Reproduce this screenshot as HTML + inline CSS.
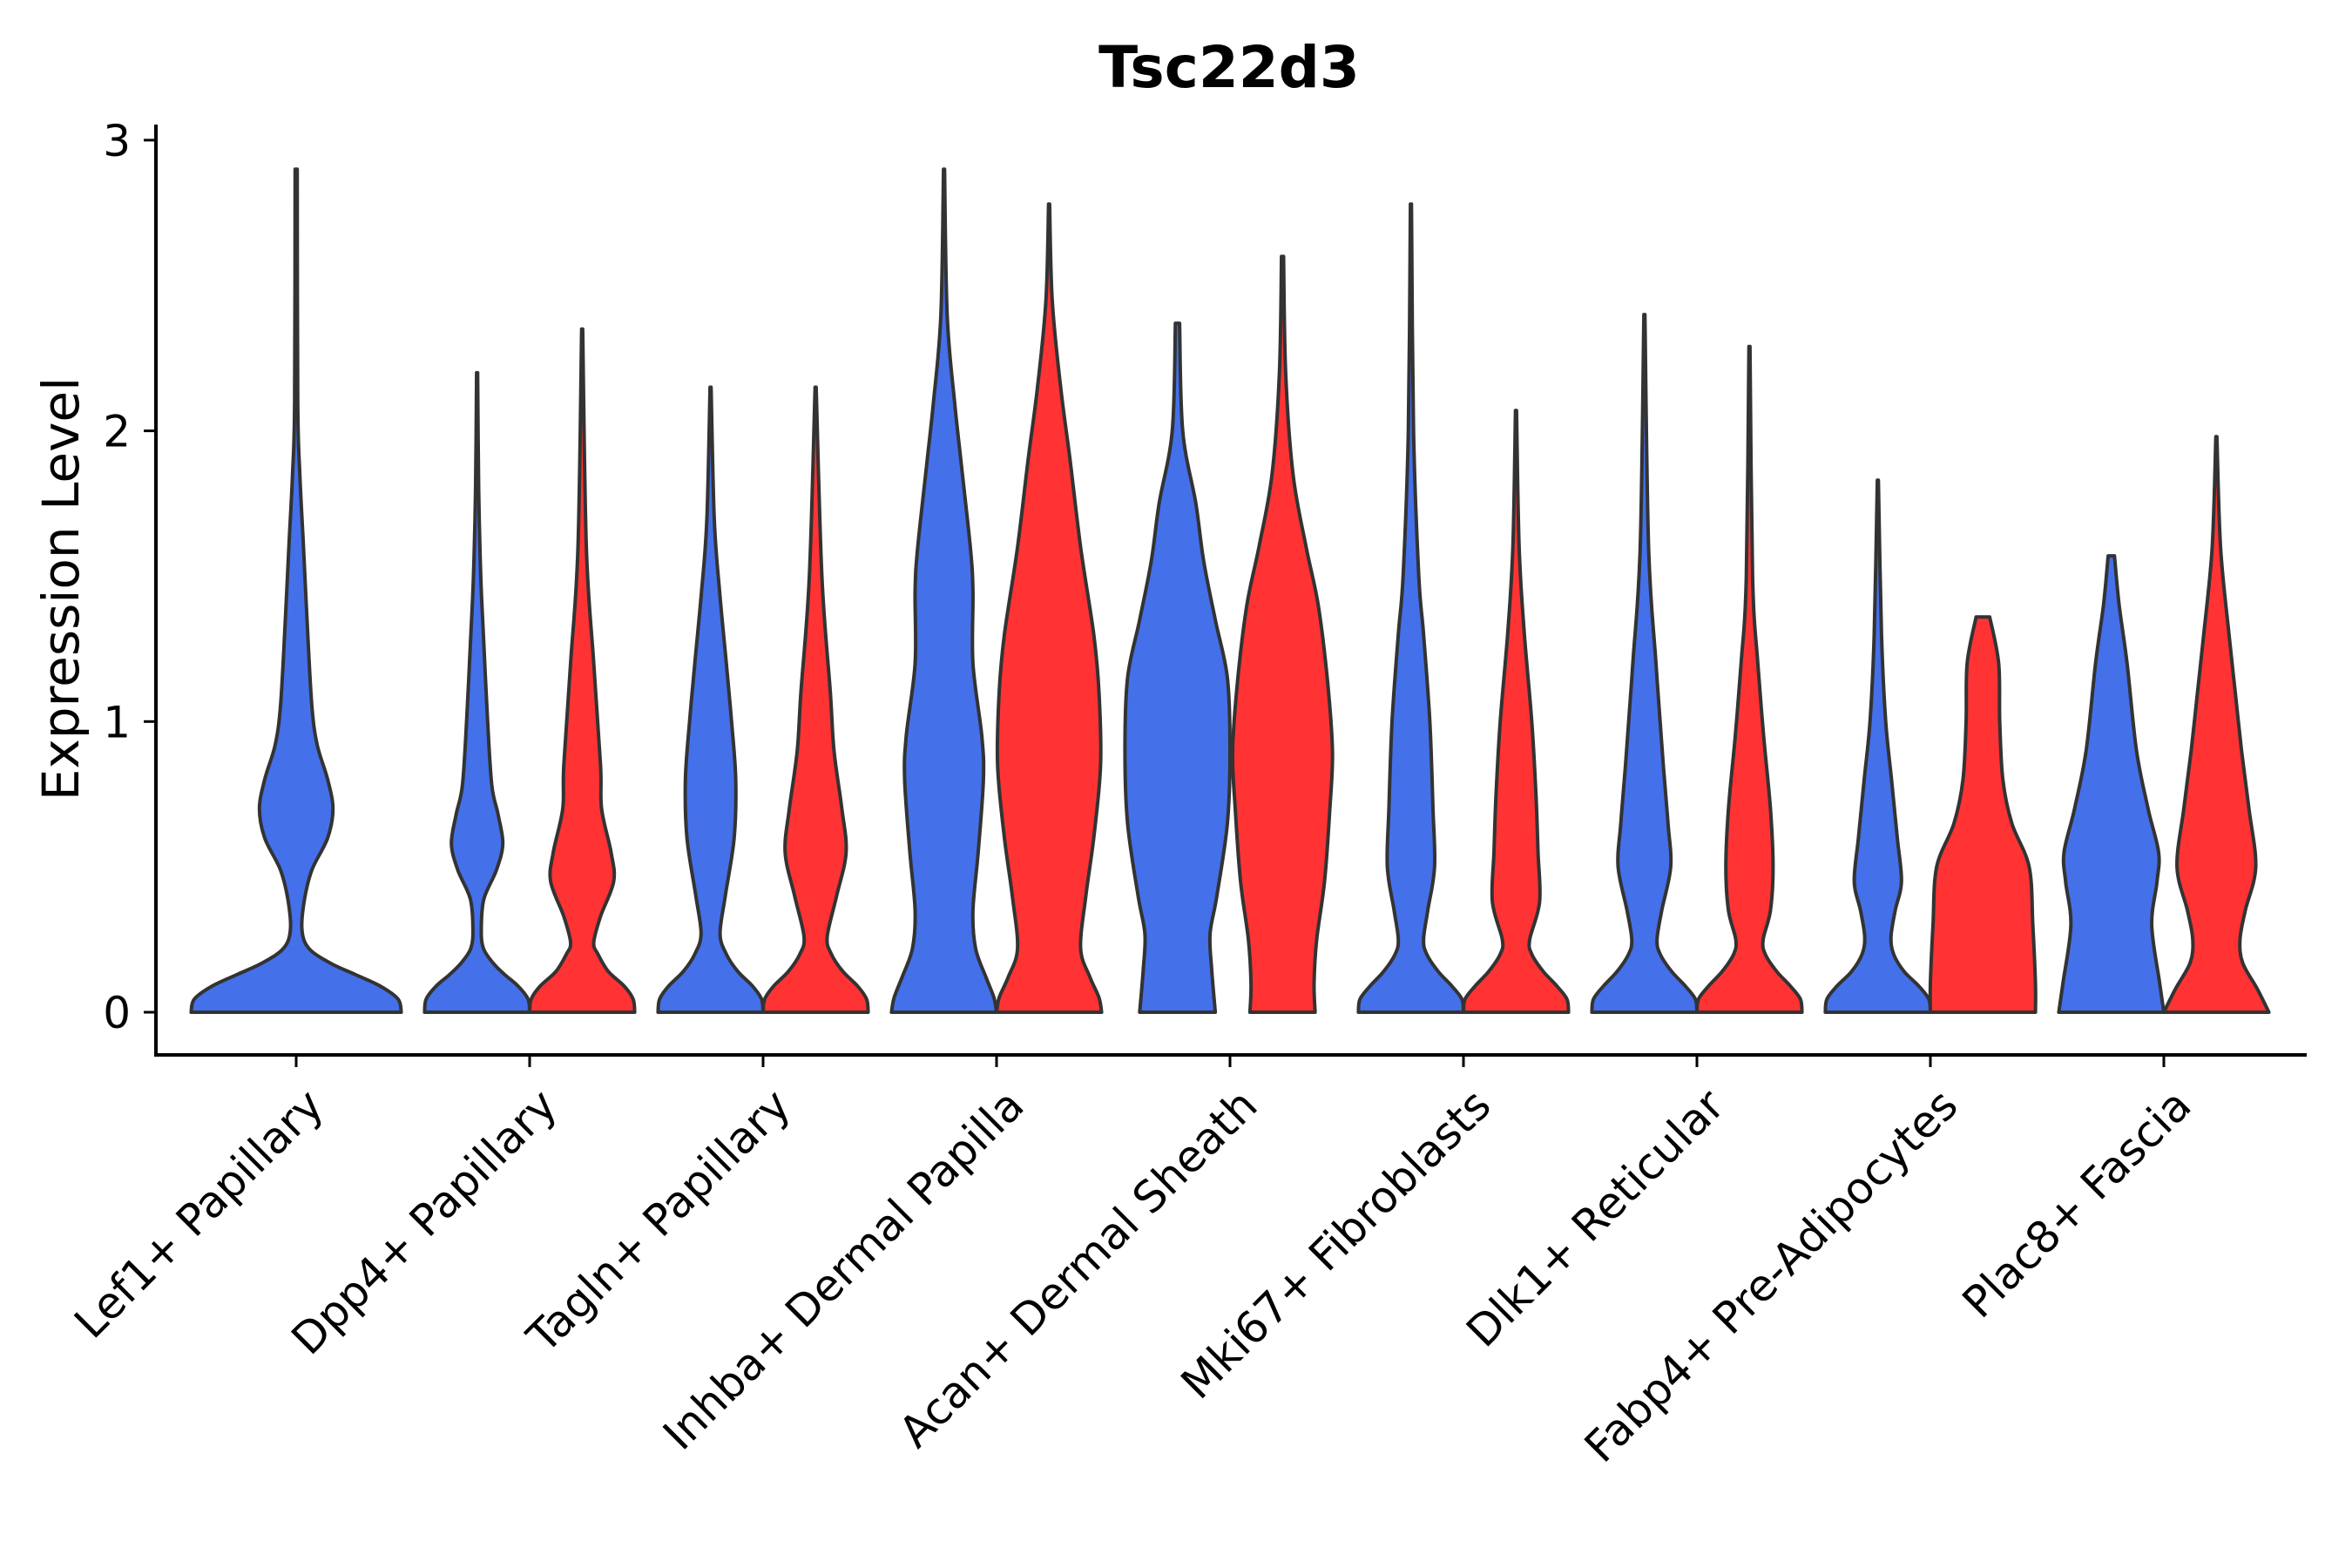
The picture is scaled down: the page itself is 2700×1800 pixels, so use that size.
<!DOCTYPE html>
<html><head><meta charset="utf-8"><style>
html,body{margin:0;padding:0;background:#fff;}
svg{display:block;}
text{font-family:"DejaVu Sans","Liberation Sans",sans-serif;}
</style></head>
<body>
<svg id="chart" width="2700" height="1800" viewBox="0 0 2700 1800" xmlns="http://www.w3.org/2000/svg">
<rect width="2700" height="1800" fill="#fff"/>
<text x="1411" y="100" text-anchor="middle" font-size="66" font-weight="bold">Tsc22d3</text>
<text transform="translate(90,676) rotate(-90)" text-anchor="middle" font-size="58">Expression Level</text>
<g id="violins"></g>
<g id="axes"></g>
</svg>
<script>
const categories = ["Lef1+ Papillary","Dpp4+ Papillary","Tagln+ Papillary","Inhba+ Dermal Papilla","Acan+ Dermal Sheath","Mki67+ Fibroblasts","Dlk1+ Reticular","Fabp4+ Pre-Adipocytes","Plac8+ Fascia"];
const yTicks = [0,1,2,3];
// density profiles: [expression, relative half-width]
const blueProfiles = [
 [[0,1],[0.045,0.97],[0.09,0.8],[0.13,0.56],[0.17,0.32],[0.22,0.12],[0.285,0.055],[0.39,0.08],[0.49,0.15],[0.6,0.3],[0.7,0.35],[0.8,0.3],[0.92,0.2],[1.05,0.15],[1.3,0.11],[1.6,0.07],[1.85,0.035],[2.1,0.015],[2.9,0.01]],
 [[0,1],[0.045,0.97],[0.09,0.78],[0.13,0.52],[0.17,0.3],[0.22,0.12],[0.285,0.08],[0.39,0.13],[0.49,0.37],[0.58,0.49],[0.68,0.4],[0.78,0.28],[1.0,0.2],[1.3,0.12],[1.5,0.07],[1.8,0.03],[2.2,0.01]],
 [[0,1],[0.045,0.97],[0.09,0.8],[0.14,0.52],[0.2,0.3],[0.27,0.18],[0.4,0.28],[0.6,0.45],[0.8,0.48],[1.0,0.4],[1.2,0.3],[1.45,0.17],[1.7,0.07],[2.15,0.01]],
 [[0,1],[0.05,0.95],[0.12,0.8],[0.22,0.6],[0.35,0.55],[0.55,0.65],[0.8,0.75],[0.95,0.72],[1.2,0.55],[1.45,0.55],[1.6,0.5],[1.9,0.32],[2.1,0.2],[2.4,0.06],[2.9,0.01]],
 [[0,0.72],[0.15,0.65],[0.27,0.62],[0.4,0.75],[0.65,0.95],[0.9,1.0],[1.15,0.95],[1.35,0.72],[1.55,0.5],[1.75,0.35],[2.0,0.1],[2.37,0.04]],
 [[0,1],[0.045,0.97],[0.09,0.78],[0.14,0.52],[0.2,0.3],[0.25,0.24],[0.35,0.32],[0.5,0.45],[0.7,0.42],[1.0,0.36],[1.3,0.24],[1.5,0.15],[2.0,0.05],[2.78,0.01]],
 [[0,1],[0.045,0.97],[0.09,0.78],[0.14,0.52],[0.2,0.3],[0.25,0.24],[0.35,0.33],[0.5,0.5],[0.65,0.45],[0.85,0.36],[1.2,0.22],[1.6,0.08],[2.4,0.01]],
 [[0,1],[0.045,0.97],[0.09,0.78],[0.14,0.5],[0.2,0.3],[0.26,0.25],[0.35,0.33],[0.45,0.45],[0.6,0.37],[0.8,0.26],[1.0,0.15],[1.3,0.07],[1.83,0.01]],
 [[0,1],[0.1,0.92],[0.3,0.77],[0.45,0.87],[0.55,0.9],[0.7,0.7],[0.9,0.48],[1.2,0.3],[1.4,0.15],[1.57,0.06]]
];
const redProfiles = [
 null,
 [[0,1],[0.045,0.97],[0.09,0.8],[0.14,0.5],[0.2,0.3],[0.24,0.22],[0.33,0.35],[0.45,0.6],[0.55,0.55],[0.7,0.37],[0.85,0.35],[1.2,0.22],[1.6,0.08],[2.35,0.01]],
 [[0,1],[0.045,0.97],[0.09,0.8],[0.14,0.52],[0.2,0.3],[0.26,0.22],[0.4,0.4],[0.55,0.58],[0.7,0.5],[0.9,0.35],[1.1,0.28],[1.5,0.12],[2.15,0.01]],
 [[0,1],[0.05,0.95],[0.12,0.78],[0.22,0.6],[0.4,0.7],[0.6,0.85],[0.85,0.98],[1.1,0.95],[1.3,0.85],[1.6,0.6],[1.9,0.4],[2.15,0.22],[2.45,0.06],[2.78,0.01]],
 [[0,0.62],[0.1,0.6],[0.25,0.65],[0.45,0.8],[0.7,0.9],[0.9,0.95],[1.15,0.85],[1.4,0.68],[1.6,0.45],[1.85,0.2],[2.2,0.06],[2.6,0.02]],
 [[0,1],[0.045,0.97],[0.09,0.78],[0.14,0.52],[0.2,0.3],[0.25,0.26],[0.38,0.45],[0.55,0.42],[0.75,0.38],[1.0,0.3],[1.3,0.16],[1.6,0.06],[2.07,0.01]],
 [[0,1],[0.045,0.97],[0.09,0.78],[0.14,0.52],[0.2,0.3],[0.25,0.26],[0.35,0.4],[0.5,0.45],[0.7,0.4],[0.95,0.27],[1.2,0.16],[1.5,0.06],[2.29,0.01]],
 [[0,1],[0.1,1.0],[0.3,0.95],[0.5,0.88],[0.65,0.55],[0.8,0.38],[1.0,0.32],[1.2,0.3],[1.36,0.13]],
 [[0,1],[0.08,0.78],[0.17,0.5],[0.25,0.45],[0.35,0.55],[0.5,0.75],[0.7,0.62],[0.9,0.48],[1.1,0.36],[1.3,0.24],[1.6,0.08],[1.98,0.01]]
];
const blueColor = "#4470EA", redColor = "#FF3333";
const X0 = 340, DX = 268, Y0 = 1162, YU = 333.7;
function xPos(i){ return X0 + i*DX; }
function yPos(v){ return Y0 - v*YU; }
const NS = "http://www.w3.org/2000/svg";

function smooth(pts){
  let d = "";
  for(let i=0;i<pts.length-1;i++){
    const p0=pts[Math.max(0,i-1)], p1=pts[i], p2=pts[i+1], p3=pts[Math.min(pts.length-1,i+2)];
    const c1=[p1[0]+(p2[0]-p0[0])/6, p1[1]+(p2[1]-p0[1])/6];
    const c2=[p2[0]-(p3[0]-p1[0])/6, p2[1]-(p3[1]-p1[1])/6];
    d += ` C${c1[0].toFixed(1)},${c1[1].toFixed(1)} ${c2[0].toFixed(1)},${c2[1].toFixed(1)} ${p2[0].toFixed(1)},${p2[1].toFixed(1)}`;
  }
  return d;
}
function violinPath(cx, hw, prof){
  const right = prof.map(p=>[cx + p[1]*hw, yPos(p[0])]);
  const left = prof.map(p=>[cx - p[1]*hw, yPos(p[0])]).reverse();
  let d = `M${left[left.length-1][0].toFixed(1)},${left[left.length-1][1].toFixed(1)} L${right[0][0].toFixed(1)},${right[0][1].toFixed(1)}`;
  d += smooth(right);
  d += ` L${left[0][0].toFixed(1)},${left[0][1].toFixed(1)}`;
  d += smooth(left);
  return d + " Z";
}
const vg = document.getElementById('violins');
function addViolin(cx, hw, prof, color, name){
  const p = document.createElementNS(NS,'path');
  p.setAttribute('d', violinPath(cx, hw, prof));
  p.setAttribute('fill', color);
  p.setAttribute('stroke', '#333333');
  p.setAttribute('stroke-width', '4');
  p.setAttribute('stroke-linejoin', 'round');
  
  
  vg.appendChild(p);
}
categories.forEach((c,i)=>{
  const cx = xPos(i);
  const slug = c.toLowerCase().replace(/[^a-z0-9]+/g,'-').replace(/-$/,'');
  if(!redProfiles[i]){
    addViolin(cx, 0.45*DX, blueProfiles[i], blueColor, 'violin-' + slug);
  } else {
    addViolin(cx - 0.225*DX, 0.225*DX, blueProfiles[i], blueColor, 'violin-blue-' + slug);
    addViolin(cx + 0.225*DX, 0.225*DX, redProfiles[i], redColor, 'violin-red-' + slug);
  }
});
const ag = document.getElementById('axes');
function line(x1,y1,x2,y2,w,name){
  const l = document.createElementNS(NS,'line');
  l.setAttribute('x1',x1); l.setAttribute('y1',y1); l.setAttribute('x2',x2); l.setAttribute('y2',y2);
  l.setAttribute('stroke','#000'); l.setAttribute('stroke-width',w);
  
  
  ag.appendChild(l);
}
line(179,143,179,1213,4,'y-axis-line');
line(177,1211,2648,1211,4,'x-axis-line');
yTicks.forEach(t=>{
  line(165, yPos(t), 179, yPos(t), 3, 'y-tick');
  const tx = document.createElementNS(NS,'text');
  tx.setAttribute('x',150); tx.setAttribute('y', yPos(t)+18);
  tx.setAttribute('text-anchor','end'); tx.setAttribute('font-size','50');
  tx.textContent = t;
  
  
  ag.appendChild(tx);
});
categories.forEach((c,i)=>{
  const x = xPos(i);
  line(x,1211,x,1225,3,'x-tick');
  const tx = document.createElementNS(NS,'text');
  tx.setAttribute('transform', `translate(${x+34},${1272}) rotate(-45)`);
  tx.setAttribute('text-anchor','end'); tx.setAttribute('font-size','50');
  tx.textContent = c;
  
  
  ag.appendChild(tx);
});
</script>
</body></html>
